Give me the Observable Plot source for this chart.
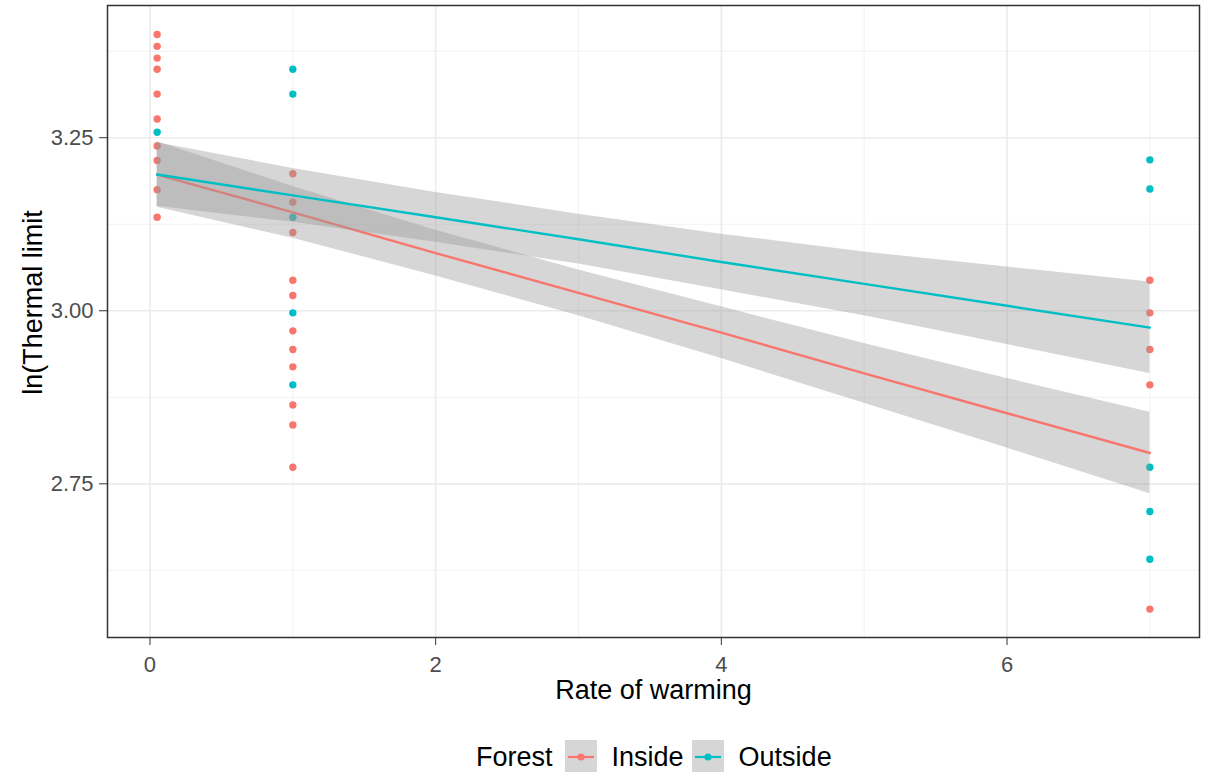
<!DOCTYPE html>
<html>
<head>
<meta charset="utf-8">
<script src="https://cdn.jsdelivr.net/npm/d3@7"></script>
<script src="https://cdn.jsdelivr.net/npm/@observablehq/plot@0.6"></script>
<style>
  body { margin: 0; background: #fff; font-family: "Liberation Sans", Arial, sans-serif; }
  #wrap { position: relative; width: 1209px; height: 772px; }
  #legend { position: absolute; left: 476px; top: 739px; display: flex; align-items: center; height: 36px; font-size: 27px; color: #000; }
  #legend .lab { margin-right: 12px; }
  #legend .item { margin-left: 15px; margin-right: 8px; }
</style>
</head>
<body>
<div id="wrap">
  <div id="chart"></div>
  <div id="legend"></div>
</div>
<script>
// ---- data ----
const groups = ["Inside", "Outside"];
const groupColors = ["#F8766D", "#00BFC4"];

const insideRate = [0.05,0.05,0.05,0.05,0.05,0.05,0.05,0.05,0.05,0.05,
                    1,1,1,1,1,1,1,1,1,1,1,
                    7,7,7,7,7];
const insideLimit = [3.399,3.382,3.365,3.349,3.313,3.277,3.238,3.217,3.175,3.135,
                     3.198,3.157,3.113,3.044,3.022,2.971,2.944,2.919,2.864,2.835,2.774,
                     3.044,2.997,2.944,2.893,2.569];

const outsideRate = [0.05, 1,1,1,1,1, 7,7,7,7,7];
const outsideLimit = [3.258, 3.349,3.313,3.135,2.997,2.893, 3.218,3.176,2.774,2.710,2.641];

// fitted lines and confidence bands
const fitRate = [0.05, 1, 2, 3, 4, 5, 6, 7];
const insideFit = [3.1968, 3.1422, 3.0833, 3.0259, 2.9684, 2.9095, 2.8520, 2.7945];
const insideLo  = [3.1494, 3.1049, 3.0503, 2.9928, 2.9310, 2.8664, 2.8017, 2.7356];
const insideHi  = [3.2443, 3.1796, 3.1164, 3.0589, 3.0057, 2.9526, 2.9023, 2.8534];
const outsideFit = [3.1968, 3.1667, 3.1351, 3.1034, 3.0704, 3.0388, 3.0072, 2.9756];
const outsideLo  = [3.1509, 3.1279, 3.0991, 3.0675, 3.0302, 2.9928, 2.9511, 2.9095];
const outsideHi  = [3.2428, 3.2055, 3.1710, 3.1394, 3.1106, 3.0848, 3.0632, 3.0417];

const xMajor = [0, 2, 4, 6];
const xMinor = [1, 3, 5, 7];
const yMajor = [2.75, 3.00, 3.25];
const yMinor = [2.625, 2.875, 3.125, 3.375];

const xTitle = "Rate of warming";
const yTitle = "ln(Thermal limit";
const legendTitle = "Forest";

// ---- build tables ----
const points = [
  ...insideRate.map((r, i) => ({rate: r, limit: insideLimit[i], forest: "Inside"})),
  ...outsideRate.map((r, i) => ({rate: r, limit: outsideLimit[i], forest: "Outside"}))
];
const insideBand = fitRate.map((r, i) => ({rate: r, fit: insideFit[i], lo: insideLo[i], hi: insideHi[i], forest: "Inside"}));
const outsideBand = fitRate.map((r, i) => ({rate: r, fit: outsideFit[i], lo: outsideLo[i], hi: outsideHi[i], forest: "Outside"}));

const xDomain = [-0.2975, 7.3475];
const yDomain = [2.528, 3.441];

const chart = Plot.plot({
  width: 1209,
  height: 720,
  marginLeft: 107,
  marginRight: 10,
  marginTop: 5,
  marginBottom: 83,
  style: {fontFamily: "'Liberation Sans', Arial, sans-serif", background: "#fff"},
  x: {domain: xDomain},
  y: {domain: yDomain},
  color: {domain: groups, range: groupColors},
  marks: [
    Plot.ruleX(xMinor, {stroke: "#f2f2f2", strokeWidth: 1}),
    Plot.ruleY(yMinor, {stroke: "#f2f2f2", strokeWidth: 1}),
    Plot.ruleX(xMajor, {stroke: "#ebebeb", strokeWidth: 1.6}),
    Plot.ruleY(yMajor, {stroke: "#ebebeb", strokeWidth: 1.6}),
    Plot.dot(points, {x: "rate", y: "limit", fill: "forest", r: 3.7}),
    Plot.areaY(insideBand, {x: "rate", y1: "lo", y2: "hi", fill: "#999999", fillOpacity: 0.4}),
    Plot.line(insideBand, {x: "rate", y: "fit", stroke: "forest", strokeWidth: 2.4}),
    Plot.areaY(outsideBand, {x: "rate", y1: "lo", y2: "hi", fill: "#999999", fillOpacity: 0.4}),
    Plot.line(outsideBand, {x: "rate", y: "fit", stroke: "forest", strokeWidth: 2.4}),
    Plot.frame({stroke: "#333333", strokeWidth: 1.5}),
    Plot.axisX({ticks: xMajor, tickSize: 8, tickPadding: 11, fontSize: 22, stroke: "#333333", fill: "#4d4d4d", label: null, tickFormat: d => String(d)}),
    Plot.axisY({ticks: yMajor, tickSize: 8, tickPadding: 6, fontSize: 22, stroke: "#333333", fill: "#4d4d4d", label: null, tickFormat: d3.format(".2f")}),
    Plot.text([xTitle], {frameAnchor: "bottom", textAnchor: "middle", lineAnchor: "middle", dy: 53, fontSize: 27, fill: "#000"}),
    Plot.text([yTitle], {frameAnchor: "left", textAnchor: "middle", lineAnchor: "middle", dx: -74, dy: -19, rotate: -90, fontSize: 27, fill: "#000"})
  ]
});
document.getElementById("chart").appendChild(chart);

// ---- legend ----
const legend = document.getElementById("legend");
const lt = document.createElement("span");
lt.className = "lab";
lt.textContent = legendTitle;
legend.appendChild(lt);
groups.forEach((g, i) => {
  const ns = "http://www.w3.org/2000/svg";
  const svg = document.createElementNS(ns, "svg");
  svg.setAttribute("width", 32);
  svg.setAttribute("height", 34);
  svg.innerHTML = `<rect x="0" y="0" width="32" height="34" fill="#999999" fill-opacity="0.4"></rect>
    <line x1="3" x2="29" y1="17" y2="17" stroke="${groupColors[i]}" stroke-width="2.2"></line>
    <circle cx="16" cy="17" r="3.6" fill="${groupColors[i]}"></circle>`;
  legend.appendChild(svg);
  const s = document.createElement("span");
  s.className = "item";
  s.textContent = g;
  legend.appendChild(s);
});
</script>
</body>
</html>
